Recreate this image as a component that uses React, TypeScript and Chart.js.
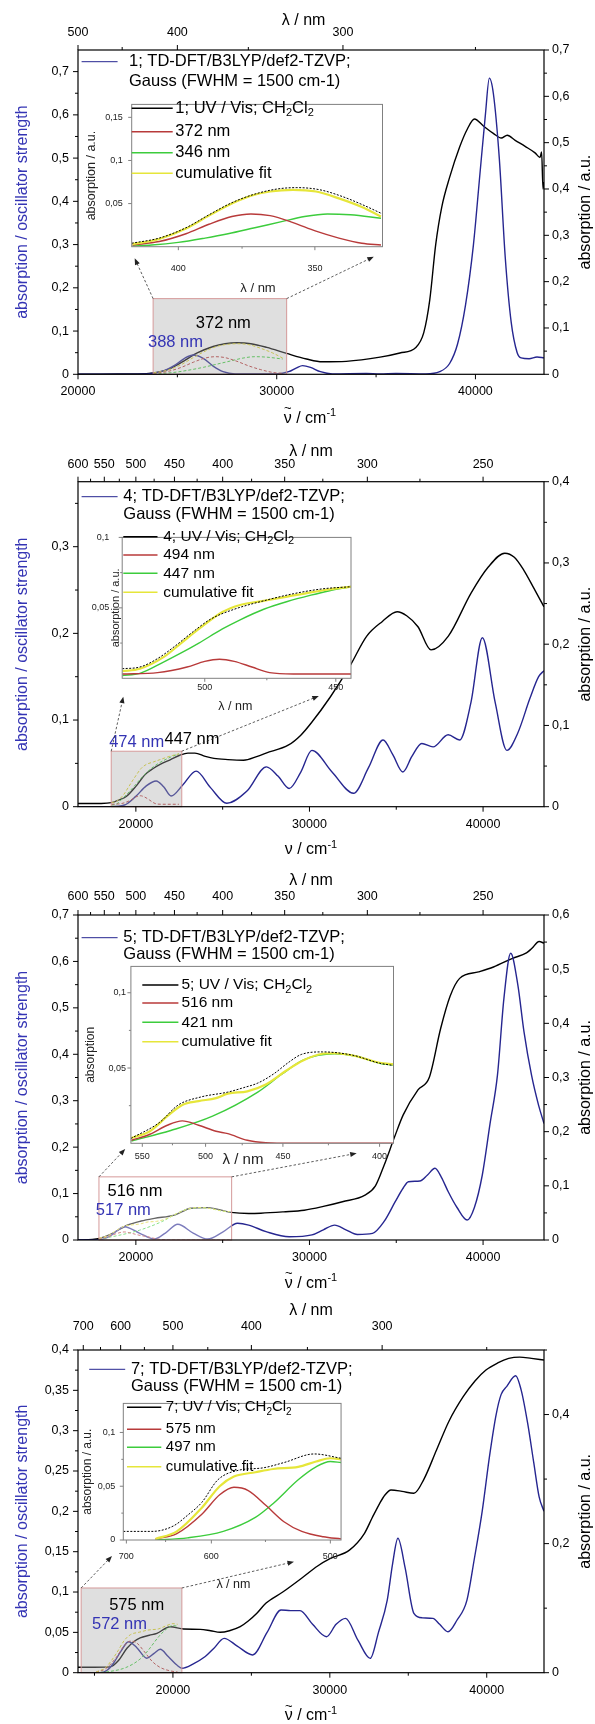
import React, { useEffect, useRef } from "react";
import { Chart, registerables } from "chart.js";

Chart.register(...registerables);

const FONT = "'Liberation Sans', Arial, Helvetica, sans-serif";
const BLUE_LINE = "#262690";
const BLUE_TEXT = "#3434b4";
const RED = "#b83a3a";
const GREEN = "#3ccc3c";
const YELLOW = "#e6e63a";

// ---------------- Panel 1 (compound 1) ----------------
const p1ExpNu = [20000, 22000, 23000, 23800, 24500, 25300, 26000, 26800, 27400, 28000, 28700, 29500, 30500, 31500, 32300, 33500, 35200, 36200, 37000, 37400, 37700, 38000, 38300, 38700, 39200, 39600, 39950, 40400, 40900, 41300, 41600, 42000, 42500, 43000, 43250, 43330, 43400, 43450];
const p1ExpAbs = [0.0, 0.001, 0.001, 0.003, 0.01, 0.028, 0.046, 0.06, 0.066, 0.068, 0.066, 0.058, 0.045, 0.033, 0.027, 0.028, 0.037, 0.046, 0.058, 0.09, 0.16, 0.28, 0.36, 0.425, 0.49, 0.53, 0.551, 0.536, 0.52, 0.51, 0.516, 0.505, 0.492, 0.478, 0.468, 0.48, 0.4, 0.415];
const p1CalcNu = [20000, 23500, 24300, 24900, 25400, 25800, 26300, 26800, 27300, 27900, 30000, 30600, 31000, 31300, 31700, 32200, 32800, 34500, 35200, 36000, 37500, 38200, 38700, 39100, 39500, 39900, 40200, 40500, 40700, 40900, 41200, 41500, 41800, 42100, 42300, 42700, 43100, 43450];
const p1CalcF = [0, 0.001, 0.008, 0.022, 0.038, 0.0446, 0.037, 0.019, 0.006, 0.001, 0.001, 0.006, 0.015, 0.02, 0.016, 0.006, 0.001, 0.002, 0.001, 0.002, 0.001, 0.006, 0.025, 0.07, 0.16, 0.3, 0.45, 0.6, 0.685, 0.65, 0.5, 0.27, 0.12, 0.05, 0.038, 0.036, 0.04, 0.038];
const p1RedNu = [23800, 24500, 25200, 25800, 26400, 26900, 27400, 28000, 28600, 29200, 29800, 30300];
const p1RedAbs = [0.002, 0.006, 0.015, 0.026, 0.035, 0.038, 0.036, 0.028, 0.018, 0.01, 0.004, 0.002];
const p1GreenNu = [23800, 24300, 25000, 25700, 26300, 27000, 27700, 28300, 28900, 29500, 30300];
const p1GreenAbs = [0.001, 0.002, 0.005, 0.01, 0.015, 0.022, 0.029, 0.035, 0.038, 0.037, 0.033];
const p1CumNu = [23800, 24500, 25200, 25800, 26400, 26900, 27400, 28000, 28600, 29200, 29800, 30300];
const p1CumAbs = [0.003, 0.009, 0.021, 0.036, 0.05, 0.059, 0.064, 0.066, 0.064, 0.056, 0.046, 0.035];
const p1InsExpNu = [23780, 24500, 25200, 25800, 26400, 27000, 27600, 28100, 28700, 29300, 29800, 30340];
const p1InsExpAbs = [0.004, 0.01, 0.022, 0.037, 0.051, 0.061, 0.067, 0.0685, 0.066, 0.058, 0.049, 0.038];
const p1BoxNu = [23780, 30500];
const p1BoxTop = 0.175;
const p1XMajor = [20000, 30000, 40000];
const p1XMinor = [25000, 35000];
const p1NmMajor = [500, 400, 300];
const p1NmMinor = [450, 350, 250];
const p1YLLabels = [0, 0.1, 0.2, 0.3, 0.4, 0.5, 0.6, 0.7];
const p1YLMinor = [0.05, 0.15, 0.25, 0.35, 0.45, 0.55, 0.65];
const p1YRLabels = [0, 0.1, 0.2, 0.3, 0.4, 0.5, 0.6, 0.7];
const p1YRMinor = [0.05, 0.15, 0.25, 0.35, 0.45, 0.55, 0.65];
const p1InsYLabels = [0.05, 0.1, 0.15];
const p1InsYMinor: number[] = [];
const p1InsNm = [400, 350];
const p1InsNmMinor = [375];

// ---------------- Panel 2 (compound 4) ----------------
const p2ExpNu = [16667, 18000, 18600, 19000, 19450, 20000, 20550, 21000, 21400, 22000, 22500, 23000, 23400, 24000, 24500, 25300, 26200, 27000, 27500, 28800, 29500, 30100, 31200, 32300, 33300, 34200, 35050, 35600, 36250, 37000, 38000, 39300, 40300, 41250, 41800, 42350, 42900, 43510];
const p2ExpAbs = [0.004, 0.004, 0.005, 0.008, 0.0125, 0.025, 0.04, 0.047, 0.052, 0.058, 0.063, 0.066, 0.066, 0.062, 0.0595, 0.058, 0.0572, 0.062, 0.066, 0.076, 0.088, 0.103, 0.135, 0.172, 0.21, 0.228, 0.24, 0.235, 0.2215, 0.193, 0.21, 0.2626, 0.295, 0.312, 0.307, 0.291, 0.27, 0.246];
const p2CalcNu = [16667, 18500, 19350, 20000, 20600, 21170, 21600, 22030, 22700, 23470, 24300, 25240, 26400, 27520, 28200, 28830, 29500, 30140, 31300, 32540, 33400, 34240, 34800, 35380, 35900, 36470, 37120, 37990, 38650, 39300, 39960, 40700, 41370, 42000, 42700, 43200, 43510];
const p2CalcF = [0, 0, 0.002, 0.012, 0.024, 0.0297, 0.023, 0.0123, 0.025, 0.041, 0.022, 0.004, 0.018, 0.046, 0.035, 0.021, 0.04, 0.065, 0.04, 0.0155, 0.045, 0.077, 0.06, 0.04, 0.058, 0.073, 0.069, 0.083, 0.077, 0.12, 0.195, 0.12, 0.065, 0.085, 0.125, 0.15, 0.157];
const p2RedNu = [18600, 19200, 19700, 20000, 20250, 20500, 20800, 21100, 21500, 22480];
const p2RedAbs = [0.003, 0.004, 0.008, 0.012, 0.0135, 0.012, 0.008, 0.004, 0.003, 0.003];
const p2GreenNu = [18600, 18900, 19300, 19600, 19900, 20300, 20600, 21000, 21400, 21800, 22100, 22480];
const p2GreenAbs = [0.002, 0.0035, 0.0115, 0.018, 0.025, 0.035, 0.0415, 0.049, 0.0545, 0.059, 0.062, 0.065];
const p2CumNu = [18600, 18900, 19300, 19600, 19900, 20300, 20600, 21000, 21400, 21800, 22100, 22480];
const p2CumAbs = [0.005, 0.0068, 0.015, 0.025, 0.035, 0.047, 0.052, 0.055, 0.058, 0.061, 0.063, 0.065];
const p2InsExpNu = [18600, 18900, 19200, 19500, 19800, 20100, 20500, 21000, 21500, 22000, 22480];
const p2InsExpAbs = [0.0068, 0.008, 0.014, 0.023, 0.033, 0.042, 0.049, 0.055, 0.06, 0.0635, 0.065];
const p2BoxNu = [18580, 22644];
const p2BoxTop = 0.064;
const p2XMajor = [20000, 30000, 40000];
const p2XMinor = [25000, 35000];
const p2NmMajor = [600, 550, 500, 450, 400, 350, 300, 250];
const p2NmMinor = [575, 525, 475, 425, 375, 325, 275];
const p2YLLabels = [0, 0.1, 0.2, 0.3];
const p2YLMinor = [0.05, 0.15, 0.25, 0.35];
const p2YRLabels = [0, 0.1, 0.2, 0.3, 0.4];
const p2YRMinor = [0.05, 0.15, 0.25, 0.35];
const p2InsYLabels = [0.05, 0.1];
const p2InsYMinor = [0.025, 0.075];
const p2InsNm = [500, 450];
const p2InsNmMinor = [475];

// ---------------- Panel 3 (compound 5) ----------------
const p3ExpNu = [16667, 17500, 17900, 18500, 19540, 20300, 21070, 22220, 23180, 24140, 25480, 26500, 27200, 28500, 29700, 30800, 31900, 33200, 33800, 34300, 34900, 35400, 36250, 36900, 37560, 38100, 38650, 39740, 40600, 41700, 42500, 42800, 43230, 43510];
const p3ExpAbs = [0, 0.001, 0.003, 0.01, 0.0277, 0.035, 0.04, 0.046, 0.0585, 0.0597, 0.051, 0.049, 0.0495, 0.052, 0.055, 0.062, 0.0707, 0.083, 0.1, 0.138, 0.19, 0.231, 0.277, 0.3, 0.391, 0.45, 0.483, 0.495, 0.504, 0.52, 0.53, 0.538, 0.551, 0.548];
const p3CalcNu = [16667, 17800, 18500, 19345, 20200, 21070, 21700, 22414, 23300, 24138, 25000, 25862, 26500, 27500, 28833, 30142, 30800, 31450, 32100, 32759, 33632, 34300, 34940, 35400, 35703, 36358, 36800, 37230, 37600, 37994, 38500, 39084, 39500, 39956, 40400, 40829, 41200, 41592, 42000, 42356, 42792, 43200, 43510];
const p3CalcF = [0, 0, 0.008, 0.0287, 0.015, 0.002, 0.015, 0.0338, 0.015, 0.002, 0.017, 0.036, 0.032, 0.018, 0.007, 0.011, 0.022, 0.032, 0.022, 0.012, 0.0144, 0.04, 0.0825, 0.112, 0.1256, 0.127, 0.14, 0.1544, 0.135, 0.104, 0.07, 0.043, 0.07, 0.14, 0.25, 0.355, 0.52, 0.6175, 0.55, 0.449, 0.355, 0.29, 0.251];
const p3RedNu = [17870, 18400, 18900, 19330, 19800, 20300, 20640, 21200, 21730, 22500, 25400];
const p3RedAbs = [0.002, 0.006, 0.012, 0.0149, 0.012, 0.008, 0.0064, 0.002, 0.0004, 0, 0];
const p3GreenNu = [17870, 19000, 20200, 21500, 22200, 22800, 23700, 24300, 25000, 25400];
const p3GreenAbs = [0.0015, 0.0085, 0.018, 0.034, 0.046, 0.0553, 0.0595, 0.058, 0.0532, 0.052];
const p3CumNu = [17870, 18400, 18900, 19330, 19800, 20300, 20640, 21200, 21730, 22300, 22800, 23360, 23700, 24300, 25000, 25400];
const p3CumAbs = [0.0035, 0.008, 0.018, 0.0255, 0.028, 0.03, 0.033, 0.0345, 0.039, 0.048, 0.055, 0.0595, 0.0598, 0.058, 0.0535, 0.0525];
const p3InsExpNu = [17854, 18673, 19219, 19871, 20636, 21100, 21500, 21950, 22400, 22750, 23360, 24230, 25000, 25400];
const p3InsExpAbs = [0.0032, 0.0138, 0.0255, 0.0308, 0.034, 0.037, 0.04, 0.046, 0.054, 0.059, 0.0607, 0.0585, 0.0532, 0.0517];
const p3BoxNu = [17874, 25517];
const p3BoxTop = 0.136;
const p3XMajor = [20000, 30000, 40000];
const p3XMinor = [25000, 35000];
const p3NmMajor = [600, 550, 500, 450, 400, 350, 300, 250];
const p3NmMinor = [575, 525, 475, 425, 375, 325, 275];
const p3YLLabels = [0, 0.1, 0.2, 0.3, 0.4, 0.5, 0.6, 0.7];
const p3YLMinor = [0.05, 0.15, 0.25, 0.35, 0.45, 0.55, 0.65];
const p3YRLabels = [0, 0.1, 0.2, 0.3, 0.4, 0.5, 0.6];
const p3YRMinor = [0.05, 0.15, 0.25, 0.35, 0.45, 0.55];
const p3InsYLabels = [0.05, 0.1];
const p3InsYMinor = [0.025, 0.075];
const p3InsNm = [550, 500, 450, 400];
const p3InsNmMinor = [525, 475, 425];

// ---------------- Panel 4 (compound 7) ----------------
const p4ExpNu = [13950, 15000, 16000, 16500, 17070, 17500, 17910, 18500, 18980, 19830, 20680, 21740, 22400, 23010, 23600, 24290, 24800, 25350, 25920, 27000, 28340, 29200, 30040, 31250, 32210, 32700, 33180, 33500, 33900, 34600, 35360, 36000, 36800, 37600, 38500, 39250, 39950, 40700, 41400, 42100, 42850, 43650];
const p4ExpAbs = [0.0084, 0.0084, 0.009, 0.018, 0.0378, 0.048, 0.054, 0.058, 0.061, 0.0713, 0.0677, 0.0672, 0.065, 0.0626, 0.065, 0.0713, 0.08, 0.092, 0.1075, 0.125, 0.149, 0.165, 0.177, 0.19, 0.216, 0.24, 0.2625, 0.275, 0.283, 0.281, 0.278, 0.3, 0.345, 0.39, 0.4276, 0.452, 0.469, 0.48, 0.487, 0.489, 0.487, 0.4845];
const p4CalcNu = [13950, 15360, 15800, 16210, 16700, 17170, 17700, 18340, 18800, 19190, 19700, 20250, 20570, 21300, 22060, 22600, 23265, 24100, 25080, 26000, 26890, 27500, 28100, 28900, 29790, 30400, 31000, 31800, 32575, 33100, 33660, 34000, 34340, 34800, 35357, 35900, 36570, 37000, 37530, 38100, 38740, 39200, 39710, 40190, 40600, 40920, 41280, 41840, 42200, 42610, 43000, 43340, 43650];
const p4CalcF = [0, 0, 0.003, 0.0117, 0.027, 0.0384, 0.031, 0.018, 0.024, 0.029, 0.02, 0.0095, 0.0055, 0.011, 0.02, 0.03, 0.0426, 0.033, 0.022, 0.05, 0.0777, 0.077, 0.0769, 0.06, 0.0446, 0.06, 0.0674, 0.04, 0.0178, 0.05, 0.09, 0.135, 0.1666, 0.13, 0.0736, 0.068, 0.0674, 0.06, 0.0508, 0.065, 0.09, 0.14, 0.2, 0.27, 0.32, 0.345, 0.355, 0.368, 0.35, 0.309, 0.26, 0.218, 0.2];
const p4RedNu = [15100, 15700, 16400, 16900, 17300, 17700, 18200, 18700, 19200, 19800, 20300];
const p4RedAbs = [0.001, 0.006, 0.024, 0.042, 0.049, 0.046, 0.032, 0.017, 0.008, 0.003, 0.001];
const p4GreenNu = [15100, 16000, 17000, 17900, 18400, 19100, 19600, 20000, 20300];
const p4GreenAbs = [0, 0.002, 0.008, 0.021, 0.034, 0.056, 0.068, 0.073, 0.072];
const p4CumNu = [15100, 15700, 16400, 16900, 17300, 17900, 18400, 19100, 19600, 20000, 20300];
const p4CumAbs = [0.001, 0.008, 0.03, 0.05, 0.059, 0.063, 0.066, 0.068, 0.073, 0.076, 0.075];
const p4InsExpNu = [14200, 15000, 15600, 16000, 16400, 16850, 17450, 18100, 18700, 19550, 20300];
const p4InsExpAbs = [0.008, 0.008, 0.013, 0.023, 0.035, 0.056, 0.065, 0.067, 0.072, 0.08, 0.076];
const p4BoxNu = [14150, 20570];
const p4BoxTop = 0.105;
const p4XMajor = [20000, 30000, 40000];
const p4XMinor = [15000, 25000, 35000];
const p4NmMajor = [700, 600, 500, 400, 300];
const p4NmMinor = [650, 550, 450, 350, 250];
const p4YLLabels = [0, 0.05, 0.1, 0.15, 0.2, 0.25, 0.3, 0.35, 0.4];
const p4YLMinor = [0.025, 0.075, 0.125, 0.175, 0.225, 0.275, 0.325, 0.375];
const p4YRLabels = [0, 0.2, 0.4];
const p4YRMinor = [0.1, 0.3, 0.5];
const p4InsYLabels = [0, 0.05, 0.1];
const p4InsYMinor = [0.025, 0.075];
const p4InsNm = [700, 600, 500];
const p4InsNmMinor = [650, 550];

// ---------------- layout / configuration ----------------
const PANELS: any[] = [
  {
    name: "1", top: 0, height: 428, areaT: 50, areaB: 374.3,
    xMin: 20000, xMax: 43450, xMajor: p1XMajor, xMinor: p1XMinor, nmMajor: p1NmMajor, nmMinor: p1NmMinor,
    yLMax: 0.75, yLLabels: p1YLLabels, yLMinor: p1YLMinor, yRMax: 0.7, yRLabels: p1YRLabels, yRMinor: p1YRMinor,
    topPad: 10, topTitle: [303.6, 21], botTitle: [310, 418.3], tilde: true,
    legend: { x0: 81.6, x1: 117.6, tx: 129, y1: 61.7, y2: 81.7 },
    box: { nu: p1BoxNu, top: p1BoxTop, fill: "rgba(170,170,170,0.38)" },
    arrowEnds: [[134.7, 258.3], [373.8, 256.7]],
    notes: [{ t: "372 nm", x: 223.3, y: 323.3, c: "#000" }, { t: "388 nm", x: 175.5, y: 342, c: BLUE_TEXT }],
    exp: [p1ExpNu, p1ExpAbs], calc: [p1CalcNu, p1CalcF], red: [p1RedNu, p1RedAbs], green: [p1GreenNu, p1GreenAbs], cum: [p1CumNu, p1CumAbs],
    ins: {
      frame: { l: 131.7, r: 382.5, t: 93.3, b: 246.7 }, xMin: 23780, xMax: 30340, yMax: 0.165,
      yLabels: p1InsYLabels, yMinor: p1InsYMinor, nm: p1InsNm, nmMinor: p1InsNmMinor, xPad: 16, yPad: 9,
      yTitle: "absorption / a.u.", yTitleX: 92, yTitleSize: 12.5, xTitleX: 258, xTitleY: 288.3, xTitleSize: 13,
      leg: { x0: 131.7, x1: 172.7, tx: 175.3, ys: [108.3, 131.7, 152.7, 173.3], size: 16.5, labels: ["372 nm", "346 nm"] },
      exp: [p1InsExpNu, p1InsExpAbs],
    },
  },
  {
    name: "4", top: 428, height: 432, areaT: 481.7, areaB: 806.7,
    xMin: 16667, xMax: 43510, xMajor: p2XMajor, xMinor: p2XMinor, nmMajor: p2NmMajor, nmMinor: p2NmMinor,
    yLMax: 0.375, yLLabels: p2YLLabels, yLMinor: p2YLMinor, yRMax: 0.4, yRLabels: p2YRLabels, yRMinor: p2YRMinor,
    topPad: 9.7, topTitle: [311, 451.7], botTitle: [311, 850], tilde: false,
    legend: { x0: 81.6, x1: 117.6, tx: 123.3, y1: 496.7, y2: 514 },
    box: { nu: p2BoxNu, top: p2BoxTop, fill: "rgba(170,170,170,0.38)" },
    arrowEnds: [[123.3, 696.7], [318.8, 696]],
    notes: [{ t: "474 nm", x: 136.7, y: 742, c: BLUE_TEXT }, { t: "447 nm", x: 192, y: 739, c: "#000" }],
    exp: [p2ExpNu, p2ExpAbs], calc: [p2CalcNu, p2CalcF], red: [p2RedNu, p2RedAbs], green: [p2GreenNu, p2GreenAbs], cum: [p2CumNu, p2CumAbs],
    ins: {
      frame: { l: 122.2, r: 351, t: 521.7, b: 678.3 }, xMin: 18600, xMax: 22480, yMax: 0.1,
      yLabels: p2InsYLabels, yMinor: p2InsYMinor, nm: p2InsNm, nmMinor: p2InsNmMinor, xPad: 4, yPad: 13,
      yTitle: "absorption / a.u.", yTitleX: 115.5, yTitleSize: 11, xTitleX: 235.3, xTitleY: 706.7, xTitleSize: 12.5,
      leg: { x0: 123.3, x1: 157.5, tx: 163.2, ys: [536.7, 555, 573.3, 592.3], size: 15.5, labels: ["494 nm", "447 nm"] },
      exp: [p2InsExpNu, p2InsExpAbs],
    },
  },
  {
    name: "5", top: 860, height: 432, areaT: 915, areaB: 1240,
    xMin: 16667, xMax: 43510, xMajor: p3XMajor, xMinor: p3XMinor, nmMajor: p3NmMajor, nmMinor: p3NmMinor,
    yLMax: 0.7, yLLabels: p3YLLabels, yLMinor: p3YLMinor, yRMax: 0.6, yRLabels: p3YRLabels, yRMinor: p3YRMinor,
    topPad: 10.5, topTitle: [311, 880.7], botTitle: [311, 1283.3], tilde: true,
    legend: { x0: 81.6, x1: 117.6, tx: 123.3, y1: 937.7, y2: 954.3 },
    box: { nu: p3BoxNu, top: p3BoxTop, fill: "rgba(255,255,255,0.4)" },
    arrowEnds: [[125.2, 1149], [356.7, 1153.3]],
    notes: [{ t: "516 nm", x: 135, y: 1191, c: "#000" }, { t: "517 nm", x: 123.3, y: 1210.5, c: BLUE_TEXT }],
    exp: [p3ExpNu, p3ExpAbs], calc: [p3CalcNu, p3CalcF], red: [p3RedNu, p3RedAbs], green: [p3GreenNu, p3GreenAbs], cum: [p3CumNu, p3CumAbs],
    ins: {
      frame: { l: 130.9, r: 393.5, t: 959.3, b: 1143.3 }, xMin: 17854, xMax: 25400, yMax: 0.1175,
      yLabels: p3InsYLabels, yMinor: p3InsYMinor, nm: p3InsNm, nmMinor: p3InsNmMinor, xPad: 8, yPad: 5,
      yTitle: "absorption", yTitleX: 91, yTitleSize: 12, xTitleX: 243, xTitleY: 1160, xTitleSize: 15,
      leg: { x0: 142.3, x1: 178.4, tx: 181.4, ys: [985, 1003, 1022.3, 1041.7], size: 15.5, labels: ["516 nm", "421 nm"] },
      exp: [p3InsExpNu, p3InsExpAbs],
    },
  },
  {
    name: "7", top: 1292, height: 432, areaT: 1350, areaB: 1672.7,
    xMin: 13950, xMax: 43650, xMajor: p4XMajor, xMinor: p4XMinor, nmMajor: p4NmMajor, nmMinor: p4NmMinor,
    yLMax: 0.4, yLLabels: p4YLLabels, yLMinor: p4YLMinor, yRMax: 0.5, yRLabels: p4YRLabels, yRMinor: p4YRMinor,
    topPad: 15.5, topTitle: [311, 1311], botTitle: [311, 1716], tilde: true,
    legend: { x0: 89.2, x1: 125.2, tx: 130.9, y1: 1369.3, y2: 1386 },
    box: { nu: p4BoxNu, top: p4BoxTop, fill: "rgba(170,170,170,0.38)" },
    arrowEnds: [[112, 1556], [294, 1561.7]],
    notes: [{ t: "575 nm", x: 136.7, y: 1605, c: "#000" }, { t: "572 nm", x: 119.5, y: 1624, c: BLUE_TEXT }],
    exp: [p4ExpNu, p4ExpAbs], calc: [p4CalcNu, p4CalcF], red: [p4RedNu, p4RedAbs], green: [p4GreenNu, p4GreenAbs], cum: [p4CumNu, p4CumAbs],
    ins: {
      frame: { l: 123.3, r: 346.1, t: 1392.7, b: 1540 }, xMin: 14200, xMax: 20300, yMax: 0.127,
      yLabels: p4InsYLabels, yMinor: p4InsYMinor, nm: p4InsNm, nmMinor: p4InsNmMinor, xPad: 11, yPad: 8,
      yTitle: "absorption / a.u.", yTitleX: 88, yTitleSize: 12, xTitleX: 233.4, xTitleY: 1585, xTitleSize: 12.5,
      leg: { x0: 127, x1: 161.3, tx: 165.8, ys: [1407.3, 1429.3, 1447.3, 1466.7], size: 15, labels: ["575 nm", "497 nm"] },
      exp: [p4InsExpNu, p4InsExpAbs],
    },
  },
];

const AREA_L = 78;
const AREA_R = 544;

// ---------------- helpers ----------------
const pts = (xs: number[], ys: number[]) => xs.map((x, i) => ({ x, y: ys[i] }));
const fmt = (v: number) => (Math.round(v * 1000) / 1000).toString().replace(".", ",");

function line(ctx: CanvasRenderingContext2D, x1: number, y1: number, x2: number, y2: number) {
  ctx.beginPath();
  ctx.moveTo(x1, y1);
  ctx.lineTo(x2, y2);
  ctx.stroke();
}

function drawRich(ctx: CanvasRenderingContext2D, segs: any[], x: number, y: number, size: number, color: string, align: string) {
  const big = `${size}px ${FONT}`;
  const small = `${Math.round(size * 0.68)}px ${FONT}`;
  let w = 0;
  const widths = segs.map((s) => {
    ctx.font = s.s ? small : big;
    const m = ctx.measureText(s.t).width;
    w += m;
    return m;
  });
  let cx = align === "center" ? x - w / 2 : x;
  ctx.fillStyle = color;
  ctx.textBaseline = "middle";
  segs.forEach((s, i) => {
    ctx.textAlign = "left";
    ctx.font = s.s ? small : big;
    const dy = s.s === "sub" ? size * 0.3 : s.s === "sup" ? -size * 0.32 : 0;
    ctx.fillText(s.t, cx, y + dy);
    if (s.tilde) {
      ctx.font = `${Math.round(size * 0.8)}px ${FONT}`;
      ctx.textAlign = "center";
      ctx.fillText("~", cx + widths[i] / 2, y - size * 0.6);
    }
    cx += widths[i];
  });
  ctx.textAlign = "left";
}

function drawArrow(ctx: CanvasRenderingContext2D, x1: number, y1: number, x2: number, y2: number) {
  const ang = Math.atan2(y2 - y1, x2 - x1);
  const hl = 7;
  ctx.save();
  ctx.strokeStyle = "#333";
  ctx.fillStyle = "#222";
  ctx.lineWidth = 0.8;
  ctx.setLineDash([2.5, 2]);
  line(ctx, x1, y1, x2 - Math.cos(ang) * hl * 0.7, y2 - Math.sin(ang) * hl * 0.7);
  ctx.setLineDash([]);
  ctx.beginPath();
  ctx.moveTo(x2, y2);
  ctx.lineTo(x2 - hl * Math.cos(ang - 0.38), y2 - hl * Math.sin(ang - 0.38));
  ctx.lineTo(x2 - hl * Math.cos(ang + 0.38), y2 - hl * Math.sin(ang + 0.38));
  ctx.closePath();
  ctx.fill();
  ctx.restore();
}

function sampleLabel(name: string) {
  return [{ t: `${name}; UV / Vis; CH` }, { t: "2", s: "sub" }, { t: "Cl" }, { t: "2", s: "sub" }];
}

const NO_GRID = { grid: { display: false, drawTicks: false, tickLength: 0 }, border: { display: false } };

// ---------------- main chart ----------------
function mainDecor(p: any) {
  return {
    id: "mainDecor",
    afterDatasetsDraw(chart: any) {
      const { ctx } = chart;
      const sx = chart.scales.x;
      const sl = chart.scales.yL;
      const x1 = sx.getPixelForValue(p.box.nu[0]);
      const x2 = sx.getPixelForValue(p.box.nu[1]);
      const y1 = sl.getPixelForValue(p.box.top);
      const y2 = sl.getPixelForValue(0);
      ctx.save();
      ctx.fillStyle = p.box.fill;
      ctx.fillRect(x1, y1, x2 - x1, y2 - y1);
      ctx.strokeStyle = "#d59a9a";
      ctx.lineWidth = 1;
      ctx.strokeRect(x1, y1, x2 - x1, y2 - y1);
      ctx.restore();
    },
    afterDraw(chart: any) {
      const { ctx, chartArea: ca } = chart;
      const sx = chart.scales.x;
      const sl = chart.scales.yL;
      const sr = chart.scales.yR;
      const o = p.top;
      ctx.save();
      ctx.strokeStyle = "#000";
      ctx.lineWidth = 1.2;
      ctx.strokeRect(ca.left, ca.top, ca.right - ca.left, ca.bottom - ca.top);
      ctx.lineWidth = 1;
      p.xMajor.forEach((v: number) => { const x = sx.getPixelForValue(v); line(ctx, x, ca.bottom, x, ca.bottom + 5); });
      p.xMinor.forEach((v: number) => { const x = sx.getPixelForValue(v); line(ctx, x, ca.bottom, x, ca.bottom + 3); });
      p.nmMajor.forEach((n: number) => { const x = sx.getPixelForValue(1e7 / n); line(ctx, x, ca.top, x, ca.top - 5); });
      p.nmMinor.forEach((n: number) => { const x = sx.getPixelForValue(1e7 / n); line(ctx, x, ca.top, x, ca.top - 3); });
      p.yLLabels.forEach((v: number) => { const y = sl.getPixelForValue(v); line(ctx, ca.left - 5, y, ca.left, y); });
      p.yLMinor.forEach((v: number) => { const y = sl.getPixelForValue(v); line(ctx, ca.left - 3, y, ca.left, y); });
      p.yRLabels.forEach((v: number) => { const y = sr.getPixelForValue(v); line(ctx, ca.right, y, ca.right + 5, y); });
      p.yRMinor.forEach((v: number) => { const y = sr.getPixelForValue(v); line(ctx, ca.right, y, ca.right + 3, y); });

      const mid = (ca.top + ca.bottom) / 2;
      ctx.textAlign = "center";
      ctx.textBaseline = "middle";
      ctx.font = `16px ${FONT}`;
      ctx.fillStyle = BLUE_TEXT;
      ctx.save();
      ctx.translate(23, mid);
      ctx.rotate(-Math.PI / 2);
      ctx.fillText("absorption / oscillator strength", 0, 0);
      ctx.restore();
      ctx.fillStyle = "#000";
      ctx.save();
      ctx.translate(586, mid);
      ctx.rotate(-Math.PI / 2);
      ctx.fillText("absorption / a.u.", 0, 0);
      ctx.restore();
      ctx.textAlign = "center";
      ctx.fillText("λ / nm", p.topTitle[0], p.topTitle[1] - o);
      drawRich(ctx, [{ t: "ν", tilde: p.tilde }, { t: " / cm" }, { t: "-1", s: "sup" }], p.botTitle[0], p.botTitle[1] - o, 16, "#000", "center");

      // legend of calculated spectrum
      ctx.strokeStyle = BLUE_LINE;
      ctx.lineWidth = 1;
      line(ctx, p.legend.x0, p.legend.y1 - o, p.legend.x1, p.legend.y1 - o);
      ctx.fillStyle = "#000";
      ctx.font = `16.5px ${FONT}`;
      ctx.textAlign = "left";
      ctx.textBaseline = "middle";
      ctx.fillText(`${p.name}; TD-DFT/B3LYP/def2-TZVP;`, p.legend.tx, p.legend.y1 - o);
      ctx.fillText("Gauss (FWHM = 1500 cm-1)", p.legend.tx, p.legend.y2 - o);

      // annotations
      ctx.textAlign = "center";
      p.notes.forEach((n: any) => { ctx.fillStyle = n.c; ctx.fillText(n.t, n.x, n.y - o); });

      // zoom arrows
      const bx1 = sx.getPixelForValue(p.box.nu[0]);
      const bx2 = sx.getPixelForValue(p.box.nu[1]);
      const by = sl.getPixelForValue(p.box.top);
      drawArrow(ctx, bx1, by, p.arrowEnds[0][0], p.arrowEnds[0][1] - o);
      drawArrow(ctx, bx2, by, p.arrowEnds[1][0], p.arrowEnds[1][1] - o);
      ctx.restore();
    },
  };
}

function buildMain(canvas: HTMLCanvasElement, p: any) {
  const aT = p.areaT - p.top;
  const aB = p.areaB - p.top;
  const tickFont = { family: FONT, size: 12.5 };
  const dash = (xy: number[][], color: string) => ({
    data: pts(xy[0], xy[1]), borderColor: color, borderWidth: 1, borderDash: [3, 2], yAxisID: "yR",
  });
  return new Chart(canvas, {
    type: "line",
    data: {
      datasets: [
        dash(p.cum, "#d8d020"),
        dash(p.red, RED),
        dash(p.green, GREEN),
        { data: pts(p.calc[0], p.calc[1]), borderColor: BLUE_LINE, borderWidth: 1.4, yAxisID: "yL" },
        { data: pts(p.exp[0], p.exp[1]), borderColor: "#000", borderWidth: 1.4, yAxisID: "yR" },
      ],
    },
    options: {
      responsive: false,
      animation: false,
      devicePixelRatio: 1,
      layout: { padding: 0, autoPadding: false },
      plugins: { legend: { display: false }, tooltip: { enabled: false } },
      elements: { point: { radius: 0 }, line: { cubicInterpolationMode: "monotone" } },
      scales: {
        x: {
          type: "linear", position: "bottom", min: p.xMin, max: p.xMax, ...NO_GRID,
          afterBuildTicks: (s: any) => { s.ticks = p.xMajor.map((v: number) => ({ value: v })); },
          afterFit: (s: any) => { s.height = p.height - aB; },
          ticks: { autoSkip: false, maxRotation: 0, padding: 10, color: "#000", font: tickFont, callback: (v: any) => String(v) },
        },
        x2: {
          type: "linear", position: "top", min: p.xMin, max: p.xMax, ...NO_GRID,
          afterBuildTicks: (s: any) => { s.ticks = p.nmMajor.map((n: number) => ({ value: 1e7 / n })); },
          afterFit: (s: any) => { s.height = aT; },
          ticks: { autoSkip: false, maxRotation: 0, padding: p.topPad, color: "#000", font: tickFont, callback: (v: any) => String(Math.round(1e7 / v)) },
        },
        yL: {
          type: "linear", position: "left", min: 0, max: p.yLMax, ...NO_GRID,
          afterBuildTicks: (s: any) => { s.ticks = p.yLLabels.map((v: number) => ({ value: v })); },
          afterFit: (s: any) => { s.width = AREA_L; },
          ticks: { autoSkip: false, padding: 9, color: "#000", font: tickFont, callback: (v: any) => fmt(v) },
        },
        yR: {
          type: "linear", position: "right", min: 0, max: p.yRMax, ...NO_GRID,
          afterBuildTicks: (s: any) => { s.ticks = p.yRLabels.map((v: number) => ({ value: v })); },
          afterFit: (s: any) => { s.width = 595 - AREA_R; },
          ticks: { autoSkip: false, padding: 8, color: "#000", font: tickFont, callback: (v: any) => fmt(v) },
        },
      },
    } as any,
    plugins: [mainDecor(p)],
  } as any);
}

// ---------------- inset chart ----------------
function insetGeom(p: any) {
  const f = p.ins.frame;
  const L = Math.round(f.l - 50);
  const T = Math.round(f.t - 3);
  const W = Math.round(f.r - L + 3);
  const H = Math.round(f.b - T + 52);
  return { L, T, W, H, left: f.l - L, top: f.t - T, right: W - (f.r - L), bottom: H - (f.b - T) };
}

function insetDecor(p: any, g: any) {
  const ins = p.ins;
  return {
    id: "insetDecor",
    beforeDraw(chart: any) {
      const { ctx, chartArea: ca } = chart;
      ctx.save();
      ctx.fillStyle = "#fff";
      ctx.fillRect(ca.left, ca.top, ca.right - ca.left, ca.bottom - ca.top);
      ctx.restore();
    },
    afterDraw(chart: any) {
      const { ctx, chartArea: ca } = chart;
      const sx = chart.scales.x;
      const sy = chart.scales.y;
      ctx.save();
      ctx.strokeStyle = "#808080";
      ctx.lineWidth = 1;
      ctx.strokeRect(ca.left, ca.top, ca.right - ca.left, ca.bottom - ca.top);
      ins.nm.forEach((n: number) => { const x = sx.getPixelForValue(1e7 / n); line(ctx, x, ca.bottom, x, ca.bottom + 3.5); });
      ins.nmMinor.forEach((n: number) => { const x = sx.getPixelForValue(1e7 / n); line(ctx, x, ca.bottom, x, ca.bottom + 2); });
      ins.yLabels.forEach((v: number) => { const y = sy.getPixelForValue(v); line(ctx, ca.left - 3.5, y, ca.left, y); });
      ins.yMinor.forEach((v: number) => { const y = sy.getPixelForValue(v); line(ctx, ca.left - 2, y, ca.left, y); });

      ctx.fillStyle = "#222";
      ctx.textAlign = "center";
      ctx.textBaseline = "middle";
      ctx.font = `${ins.yTitleSize}px ${FONT}`;
      ctx.save();
      ctx.translate(ins.yTitleX - g.L, (ca.top + ca.bottom) / 2);
      ctx.rotate(-Math.PI / 2);
      ctx.fillText(ins.yTitle, 0, 0);
      ctx.restore();
      ctx.font = `${ins.xTitleSize}px ${FONT}`;
      ctx.fillText("λ / nm", ins.xTitleX - g.L, ins.xTitleY - g.T);

      // legend
      const lg = ins.leg;
      const colors = ["#000", RED, GREEN, YELLOW];
      const texts: any[] = [sampleLabel(p.name), [{ t: lg.labels[0] }], [{ t: lg.labels[1] }], [{ t: "cumulative fit" }]];
      colors.forEach((c, i) => {
        const y = lg.ys[i] - g.T;
        ctx.strokeStyle = c;
        ctx.lineWidth = 1.6;
        line(ctx, lg.x0 - g.L, y, lg.x1 - g.L, y);
        drawRich(ctx, texts[i], lg.tx - g.L, y, lg.size, "#000", "left");
      });
      ctx.restore();
    },
  };
}

function buildInset(canvas: HTMLCanvasElement, p: any) {
  const ins = p.ins;
  const g = insetGeom(p);
  const small = { family: FONT, size: 9 };
  return new Chart(canvas, {
    type: "line",
    data: {
      datasets: [
        { data: pts(ins.exp[0], ins.exp[1]), borderColor: "#000", borderWidth: 1, borderDash: [2, 1.5] },
        { data: pts(p.cum[0], p.cum[1]), borderColor: YELLOW, borderWidth: 2.2 },
        { data: pts(p.red[0], p.red[1]), borderColor: RED, borderWidth: 1.4 },
        { data: pts(p.green[0], p.green[1]), borderColor: GREEN, borderWidth: 1.4 },
      ],
    },
    options: {
      responsive: false,
      animation: false,
      devicePixelRatio: 1,
      layout: { padding: { top: g.top, right: g.right, left: 0, bottom: 0 }, autoPadding: false },
      plugins: { legend: { display: false }, tooltip: { enabled: false } },
      elements: { point: { radius: 0 }, line: { cubicInterpolationMode: "monotone" } },
      scales: {
        x: {
          type: "linear", position: "bottom", min: ins.xMin, max: ins.xMax, ...NO_GRID,
          afterBuildTicks: (s: any) => { s.ticks = ins.nm.map((n: number) => ({ value: 1e7 / n })); },
          afterFit: (s: any) => { s.height = g.bottom; },
          ticks: { autoSkip: false, maxRotation: 0, padding: ins.xPad, color: "#222", font: small, callback: (v: any) => String(Math.round(1e7 / v)) },
        },
        y: {
          type: "linear", position: "left", min: 0, max: ins.yMax, ...NO_GRID,
          afterBuildTicks: (s: any) => { s.ticks = ins.yLabels.map((v: number) => ({ value: v })); },
          afterFit: (s: any) => { s.width = g.left; },
          ticks: { autoSkip: false, padding: ins.yPad, color: "#222", font: small, callback: (v: any) => fmt(v) },
        },
      },
    } as any,
    plugins: [insetDecor(p, g)],
  } as any);
}

export default function App() {
  const refs = useRef<(HTMLCanvasElement | null)[]>([]);
  useEffect(() => {
    const prev = document.body.style.margin;
    document.body.style.margin = "0";
    const charts: any[] = [];
    PANELS.forEach((p, i) => {
      const a = refs.current[i * 2];
      const b = refs.current[i * 2 + 1];
      if (a) charts.push(buildMain(a, p));
      if (b) charts.push(buildInset(b, p));
    });
    return () => {
      charts.forEach((c) => c.destroy());
      document.body.style.margin = prev;
    };
  }, []);
  return (
    <div style={{ position: "absolute", left: 0, top: 0, width: 595, height: 1724, background: "#fff", overflow: "hidden" }}>
      {PANELS.map((p, i) => {
        const g = insetGeom(p);
        return (
          <React.Fragment key={i}>
            <canvas
              ref={(el) => { refs.current[i * 2] = el; }}
              width={595}
              height={p.height}
              style={{ position: "absolute", left: 0, top: p.top, width: 595, height: p.height }}
            />
            <canvas
              ref={(el) => { refs.current[i * 2 + 1] = el; }}
              width={g.W}
              height={g.H}
              style={{ position: "absolute", left: g.L, top: g.T, width: g.W, height: g.H, zIndex: 2 }}
            />
          </React.Fragment>
        );
      })}
    </div>
  );
}
